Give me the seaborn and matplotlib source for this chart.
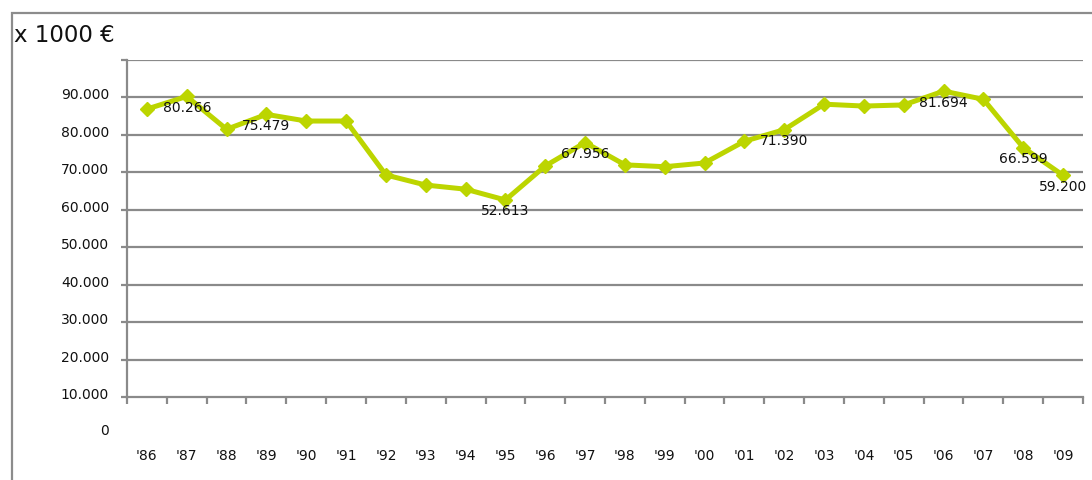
import numpy as np
import pandas as pd
import matplotlib
matplotlib.use("Agg")
import matplotlib.pyplot as plt
import matplotlib.patches as mpatches
import matplotlib.transforms as mtrans
import seaborn as sns

years = ["'86", "'87", "'88", "'89", "'90", "'91", "'92", "'93", "'94", "'95", "'96", "'97",
         "'98", "'99", "'00", "'01", "'02", "'03", "'04", "'05", "'06", "'07", "'08", "'09"]
# plotted positions (x 1000 EUR scale of the axis)
values = [86900, 90266, 81500, 85479, 83700, 83700, 69300, 66600, 65500, 62613, 71700, 77956,
          72000, 71500, 72500, 78300, 81390, 88200, 87700, 88000, 91694, 89500, 76599, 69200]
label_idx = [1, 3, 9, 11, 16, 20, 22, 23]
label_txt = ["80.266", "75.479", "52.613", "67.956", "71.390", "81.694", "66.599", "59.200"]
ytick_vals = [10000, 20000, 30000, 40000, 50000, 60000, 70000, 80000, 90000]
ytick_txt = ["10.000", "20.000", "30.000", "40.000", "50.000", "60.000", "70.000", "80.000", "90.000"]

sns.set_theme(style="white")
plt.rcParams['font.family'] = ['DejaVu Sans']

W, H = 1092, 481
fig = plt.figure(figsize=(W / 100, H / 100), dpi=100)
ax = fig.add_axes([127 / W, 1 - 398 / H, (1083 - 127) / W, (398 - 61) / H])

df = pd.DataFrame({"x": np.arange(len(years)), "v": values})
green = "#bcd500"
sns.lineplot(data=df, x="x", y="v", ax=ax, color=green, linewidth=3.6,
             marker="D", markersize=7, markeredgecolor=green, markeredgewidth=1, zorder=5)

grid_c = "#8a8a8a"
txt_c = "#111111"
fs = 10
ax.set_xlim(-0.5, len(years) - 0.5)
ax.set_ylim(10000, 100000)
for g in ytick_vals[1:] + [100000]:
    ax.axhline(g, color=grid_c, lw=1.6, zorder=1)

for s in ["top", "right"]:
    ax.spines[s].set_visible(False)
for s in ["left", "bottom"]:
    ax.spines[s].set_color(grid_c)
    ax.spines[s].set_linewidth(1.6)

ax.set_yticks(ytick_vals + [100000])
ax.set_yticklabels(ytick_txt + [""], fontsize=fs, color=txt_c, va="center")
ax.tick_params(axis="y", which="major", length=4, width=1.6, color=grid_c, pad=9, left=True)
shift = mtrans.ScaledTranslation(0, 3 / 100, fig.dpi_scale_trans)
for lab in ax.get_yticklabels():
    lab.set_transform(lab.get_transform() + shift)

zero_tr = mtrans.offset_copy(ax.transData, fig=fig, x=-13, y=3, units="points")
ax.text(-0.5, 0, "0", fontsize=fs, color=txt_c, ha="right", va="center",
        transform=zero_tr, clip_on=False)

ax.set_xticks(np.arange(len(years)))
ax.set_xticklabels(years, fontsize=fs, color=txt_c)
ax.set_xticks(np.arange(len(years) + 1) - 0.5, minor=True)
ax.tick_params(axis="x", which="major", length=0, pad=37)
ax.tick_params(axis="x", which="minor", length=5, width=1.6, color=grid_c, bottom=True, direction="out")
ax.set_xlabel("")
ax.set_ylabel("")

for i, t in zip(label_idx, label_txt):
    ax.annotate(t, (i, values[i]), xytext=(0, -7.5), textcoords="offset points",
                ha="center", va="center", fontsize=fs, color=txt_c, zorder=6)

fig.text(14 / W, 1 - 35 / H, "x 1000 €", fontsize=16.5, color=txt_c, va="center", ha="left")

frame = mpatches.Rectangle((12 / W, -0.1), 1.2, 1 - 14 / H + 0.1, transform=fig.transFigure,
                           fill=False, edgecolor="#8c8c8c", linewidth=1.6)
fig.patches.append(frame)

fig.savefig("out.png", dpi=100)
